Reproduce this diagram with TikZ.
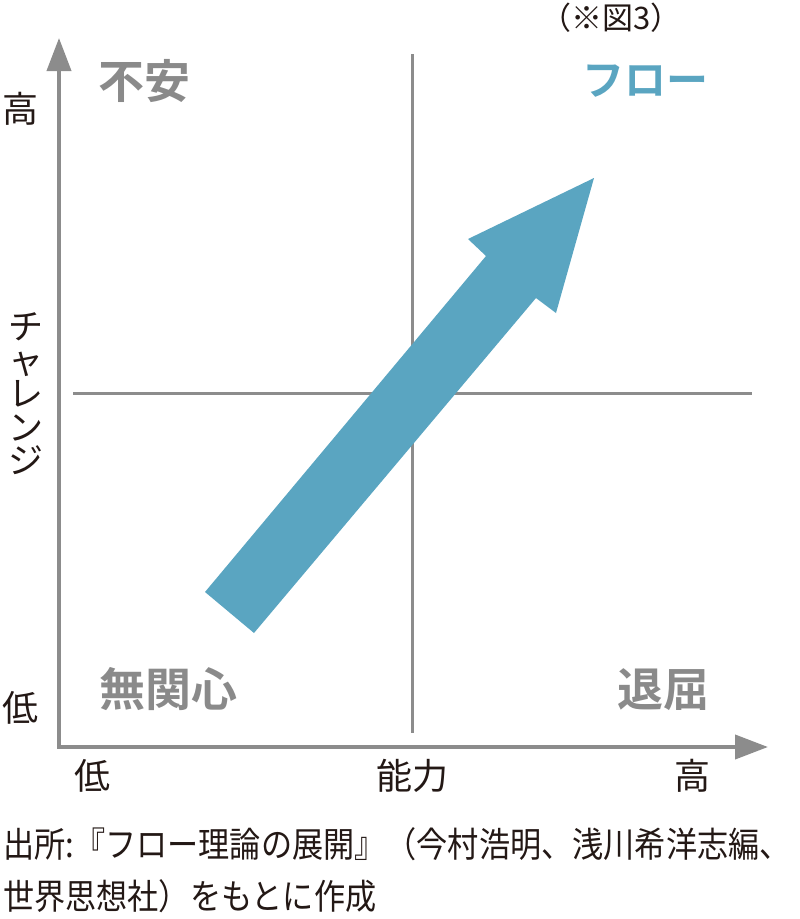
\documentclass[tikz,border=0pt]{standalone}
\usepackage{fontspec}
\newfontfamily\jp{Noto Sans CJK JP}
\newfontfamily\jpc{Noto Sans CJK JP}[FakeStretch=0.89]
\newfontfamily\jpb{Noto Sans CJK JP Bold}
\usetikzlibrary{arrows.meta}
\definecolor{axisgray}{HTML}{8C8C8C}
\definecolor{labelgray}{HTML}{8A8A8A}
\definecolor{flowblue}{HTML}{5AA5C1}
\definecolor{ink}{HTML}{231815}
\tikzset{
  axis/.style={draw=axisgray, line width=4pt, -{Triangle[length=33pt,width=24pt]}},
  divider/.style={draw=axisgray, line width=3pt},
  quad/.style={inner sep=0pt, text=labelgray, font=\jpb\fontsize{46}{50}\selectfont},
  axlabel/.style={inner sep=0pt, text=ink, font=\jp\fontsize{36}{40}\selectfont},
  caption/.style={inner sep=0pt, text=ink, anchor=west, font=\jpc\fontsize{35}{38}\selectfont},
}
\begin{document}
\begin{tikzpicture}[x=1pt,y=-1pt]
\useasboundingbox (0,0) rectangle (800,919);
% coordinates
\coordinate (origin) at (59,747);
\coordinate (ytip) at (59,38);
\coordinate (xorigin) at (57,747);
\coordinate (xtip) at (768,747);
\coordinate (vtop) at (412,54);
\coordinate (vbot) at (412,733);
\coordinate (hl) at (73,393);
\coordinate (hr) at (752,393);
% dividers
\draw[divider] (vtop) -- (vbot);
\draw[divider] (hl) -- (hr);
% axes
\draw[axis] (origin) -- (ytip);
\draw[axis] (xorigin) -- (xtip);
% big arrow
\coordinate (a1) at (205,592);
\coordinate (a2) at (486,256);
\coordinate (a3) at (468,239);
\coordinate (a4) at (594,178);
\coordinate (a5) at (556,313);
\coordinate (a6) at (536,298);
\coordinate (a7) at (254,633);
\fill[flowblue] (a1) -- (a2) -- (a3) -- (a4) -- (a5) -- (a6) -- (a7) -- cycle;
% quadrant labels
\node[quad] (fuan) at (144,81) {不安};
\node[quad, text=flowblue, font=\jpb\fontsize{42}{46}\selectfont] (flow) at (645,81) {フロー};
\node[quad] (mukanshin) at (168,689) {無関心};
\node[quad] (taikutsu) at (663,690) {退屈};
% note
\node[inner sep=0pt, text=ink, font=\jp\fontsize{31}{34}\selectfont] (note) at (611,18) {（※図3）};
% axis labels
\node[axlabel] (yhigh) at (20,109) {高};
\node[axlabel] (ylow) at (20,708) {低};
\node[axlabel, align=center, font=\jp\fontsize{35}{33.5}\selectfont] (ylabel) at (26,394) {チ\\ャ\\レ\\ン\\ジ};
\node[axlabel] (xlow) at (92,776) {低};
\node[axlabel] (xlabel) at (412,776) {能力};
\node[axlabel] (xhigh) at (692,776) {高};
% caption
\node[caption] (cap1) at (3,844) {出所:『フロー理論の展開』（今村浩明、浅川希洋志編、};
\node[caption] (cap2) at (3,896) {世界思想社）をもとに作成};
\end{tikzpicture}
\end{document}
